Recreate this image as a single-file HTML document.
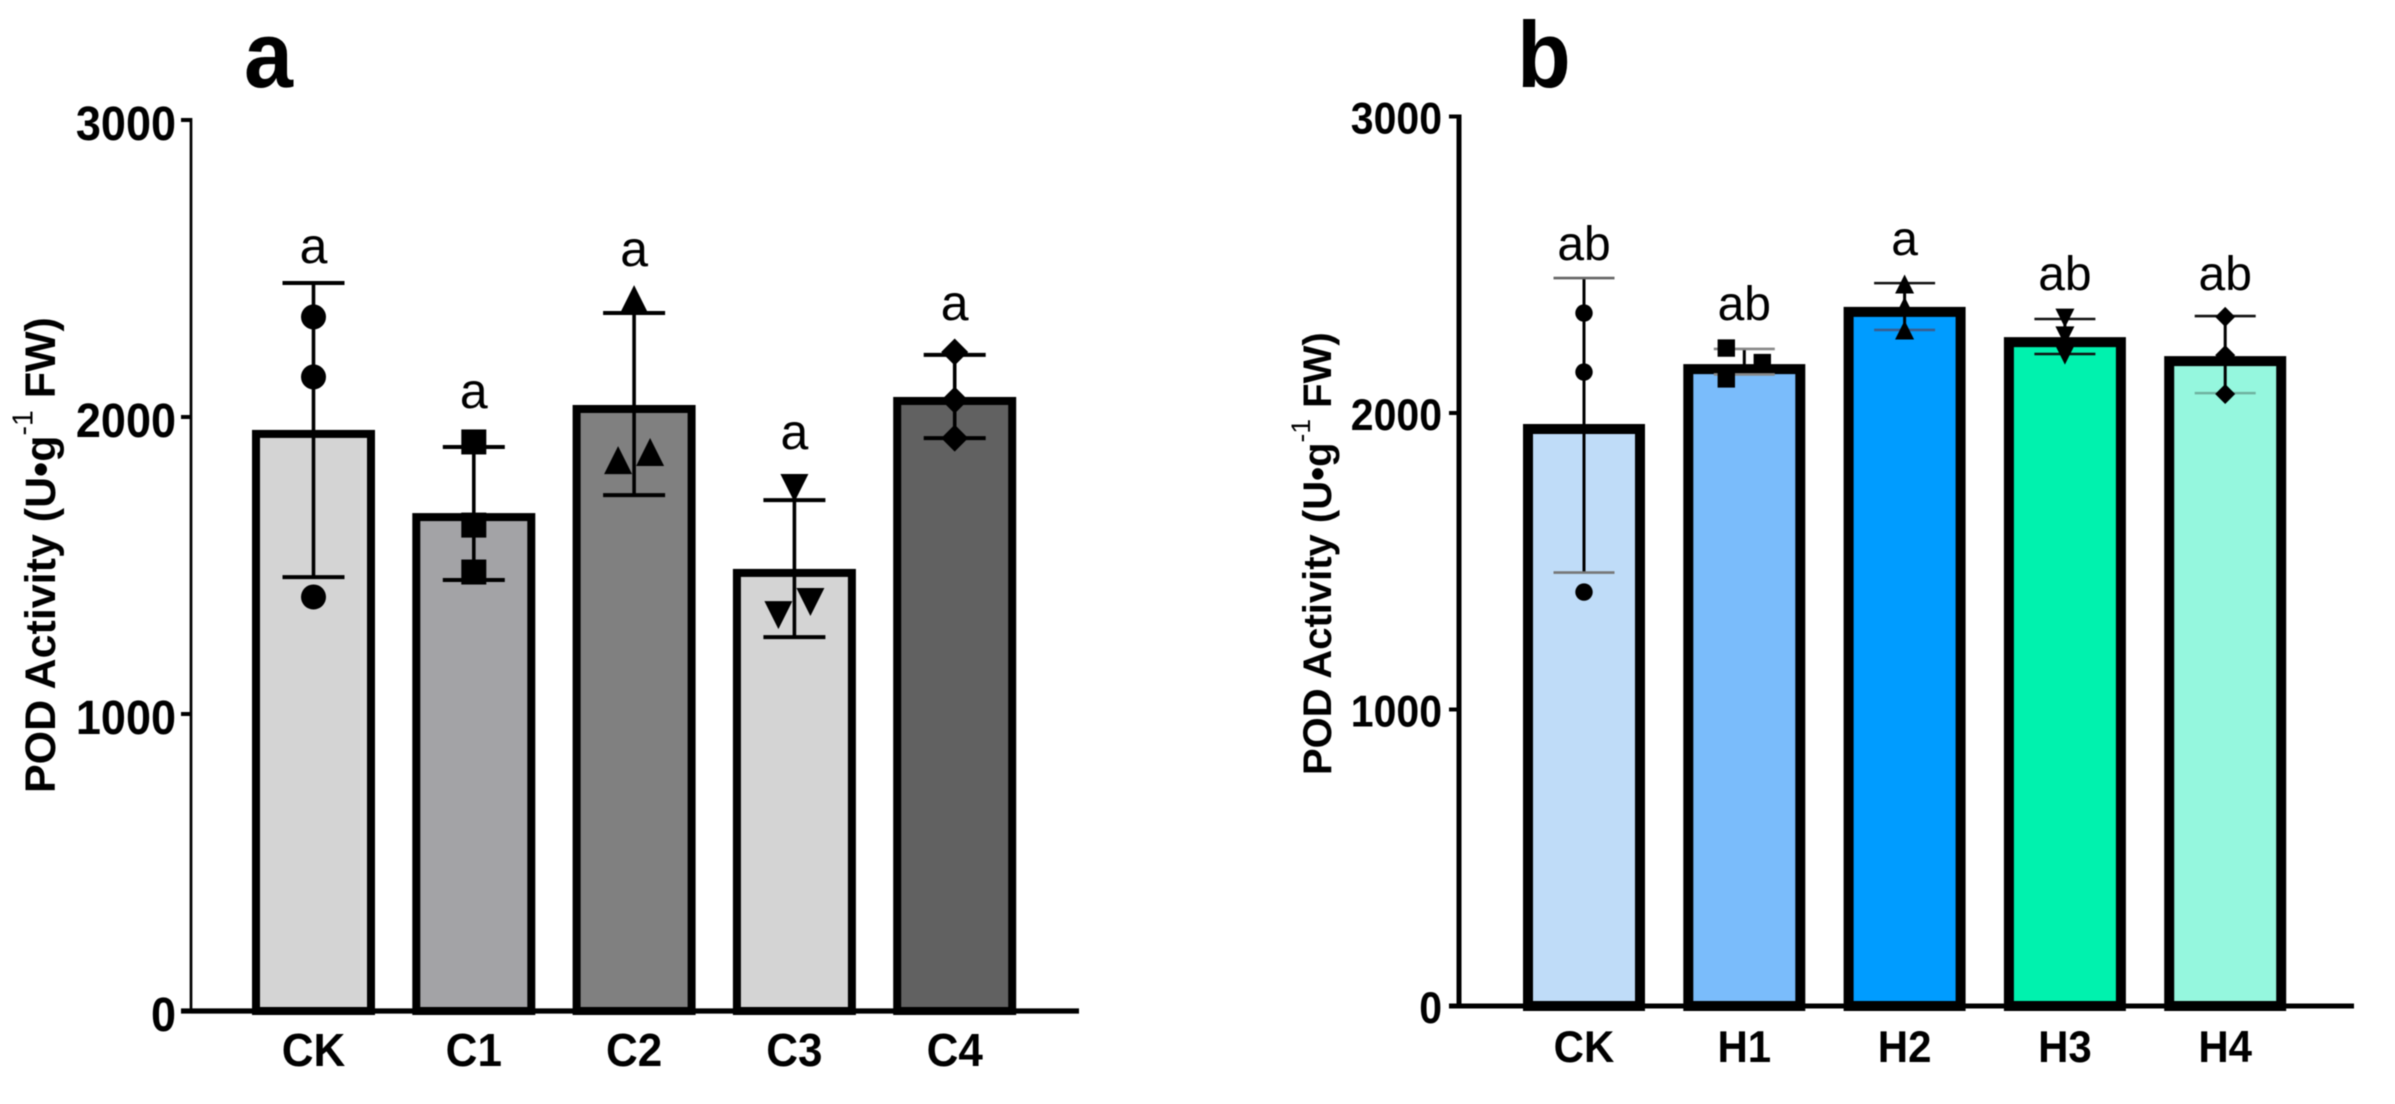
<!DOCTYPE html>
<html lang="en">
<head>
<meta charset="utf-8">
<title>POD Activity</title>
<style>
  html, body { margin: 0; padding: 0; background: #fff; }
  #figure { display: block; width: 2395px; height: 1104px; filter: blur(0.5px); font-family: "Liberation Sans", Arial, sans-serif; }
</style>
</head>
<body>
<svg id="figure" xmlns="http://www.w3.org/2000/svg" width="2395" height="1104" viewBox="0 0 2395 1104">
  <rect x="0" y="0" width="2395" height="1104" fill="#ffffff"/>
  <g id="panel-a"></g>
  <g id="panel-b"></g>
</svg>
<script>
// ---- Shared axis data ----
const tickLabels = [0, 1000, 2000, 3000];

// ---- Panel a data ----
const categoriesA = ['CK', 'C1', 'C2', 'C3', 'C4'];
const meansA = [1943, 1663, 2027, 1475, 2054];
const errorHighA = [2451, 1899, 2350, 1720, 2209];
const errorLowA = [1461, 1451, 1737, 1259, 1929];
const pointsCKa = [2337, 2135, 1394];
const pointsC1 = [1916, 1636, 1478];
const pointsC2 = [2397, 1855, 1882];
const pointsC3 = [1761, 1333, 1377];
const pointsC4 = [2219, 2057, 1929];
const sigLabelsA = ['a', 'a', 'a', 'a', 'a'];
const sigLevelsA = [2519, 2030, 2508, 1892, 2327];

// ---- Panel b data ----
const categoriesB = ['CK', 'H1', 'H2', 'H3', 'H4'];
const meansB = [1946, 2148, 2341, 2239, 2175];
const errorHighB = [2455, 2216, 2438, 2317, 2327];
const errorLowB = [1462, 2130, 2280, 2199, 2067];
const pointsCKb = [2337, 2138, 1396];
const pointsH1 = [2219, 2170, 2115];
const pointsH2 = [2435, 2360, 2280];
const pointsH3 = [2320, 2260, 2195];
const pointsH4 = [2324, 2195, 2064];
const sigLabelsB = ['ab', 'ab', 'a', 'ab', 'ab'];
const sigLevelsB = [2516, 2314, 2533, 2415, 2415];

// ---- Appearance (not data) ----
const fillsA = ['#d4d4d4', '#a3a3a6', '#808080', '#d4d4d4', '#616161'];
const fillsB = ['#bfdcf8', '#7abcfb', '#009cff', '#00f2ae', '#95f7de'];
const capTopColorsB = ['#666666', '#888888', '#111111', '#111111', '#111111'];
const capLowColorsB = ['#777777', '#888888', '#3a5f90', '#111111', '#6fb3a0'];
const capTopColorsA = ['#000000', '#000000', '#000000', '#000000', '#000000'];
const capLowColorsA = ['#000000', '#000000', '#000000', '#000000', '#000000'];
const markerKinds = ['circle', 'square', 'up', 'down', 'diamond'];

const SVG_NS = 'http://www.w3.org/2000/svg';

function make(tag, attrs, parent) {
  const node = document.createElementNS(SVG_NS, tag);
  for (const key in attrs) node.setAttribute(key, attrs[key]);
  parent.appendChild(node);
  return node;
}

function scaledText(parent, str, x, y, cfg) {
  const t = make('text', {
    transform: 'translate(' + x + ',' + y + ') scale(1,' + cfg.stretch + ')',
    'text-anchor': cfg.anchor,
    'font-size': cfg.size,
    'font-weight': cfg.weight,
    fill: '#000000'
  }, parent);
  t.textContent = str;
  return t;
}

function drawMarker(group, kind, cx, cy, m) {
  let node;
  if (kind === 'circle') {
    node = make('circle', { cx: cx, cy: cy, r: m.radius, fill: '#000' }, group);
  } else if (kind === 'square') {
    node = make('rect', { x: cx - m.radius, y: cy - m.radius, width: m.radius * 2, height: m.radius * 2, fill: '#000' }, group);
  } else if (kind === 'up') {
    node = make('polygon', { points: (cx) + ',' + (cy - m.tri) + ' ' + (cx - m.tri) + ',' + (cy + m.tri) + ' ' + (cx + m.tri) + ',' + (cy + m.tri), fill: '#000' }, group);
  } else if (kind === 'down') {
    node = make('polygon', { points: (cx) + ',' + (cy + m.tri) + ' ' + (cx - m.tri) + ',' + (cy - m.tri) + ' ' + (cx + m.tri) + ',' + (cy - m.tri), fill: '#000' }, group);
  } else {
    node = make('polygon', { points: cx + ',' + (cy - m.diamond) + ' ' + (cx + m.diamond) + ',' + cy + ' ' + cx + ',' + (cy + m.diamond) + ' ' + (cx - m.diamond) + ',' + cy, fill: '#000' }, group);
  }
  return node;
}

// Points that would overlap vertically are spread sideways, lowest first to the left.
function spreadOffsets(values, yScale, threshold, offset) {
  const order = values.map(function (v, i) { return i; }).sort(function (p, q) { return values[p] - values[q]; });
  const result = values.map(function () { return 0; });
  let side = -1;
  let inRun = false;
  for (let k = 0; k < order.length; k++) {
    const prevClose = k > 0 && Math.abs(yScale(values[order[k]]) - yScale(values[order[k - 1]])) < threshold;
    const nextClose = k < order.length - 1 && Math.abs(yScale(values[order[k]]) - yScale(values[order[k + 1]])) < threshold;
    if (prevClose || nextClose) {
      if (!inRun) { side = -1; inRun = true; }
      result[order[k]] = side * offset;
      side = -side;
    } else {
      inRun = false;
    }
  }
  return result;
}

function drawPanel(root, c) {
  const yScale = function (v) { return c.y0 - v * c.pxPerUnit; };
  const xScale = function (i) { return c.x0 + i * c.step; };

  // Bars
  c.categories.forEach(function (name, i) {
    const bar = make('rect', {
      x: xScale(i) - c.barHalf,
      y: yScale(c.means[i]),
      width: c.barHalf * 2,
      height: yScale(0) - yScale(c.means[i]),
      fill: c.fills[i],
      stroke: '#000',
      'stroke-width': c.barStroke
    }, root);
    
    
  });

  // Error bars
  c.categories.forEach(function (name, i) {
    const g = make('g', {}, root);
    
    
    const cx = xScale(i);
    make('line', { x1: cx, x2: cx, y1: yScale(c.errorHigh[i]), y2: yScale(c.errorLow[i]), stroke: '#000', 'stroke-width': c.whiskerWidth }, g);
    make('line', { x1: cx - c.capHalf, x2: cx + c.capHalf, y1: yScale(c.errorHigh[i]), y2: yScale(c.errorHigh[i]), stroke: c.capTopColors[i], 'stroke-width': c.capWidth }, g);
    make('line', { x1: cx - c.capHalf, x2: cx + c.capHalf, y1: yScale(c.errorLow[i]), y2: yScale(c.errorLow[i]), stroke: c.capLowColors[i], 'stroke-width': c.capWidth }, g);
  });

  // Replicate points
  c.categories.forEach(function (name, i) {
    const g = make('g', {}, root);
    
    
    const values = c.points[i];
    const offsets = spreadOffsets(values, yScale, c.spreadThreshold, c.spreadOffset);
    values.forEach(function (v, k) {
      const mark = drawMarker(g, markerKinds[i], xScale(i) + offsets[k], yScale(v), c.marker);
      
      
    });
  });

  // Y axis
  const yAxis = make('line', { x1: c.axisX, x2: c.axisX, y1: yScale(3000) - 2, y2: yScale(0), stroke: '#000', 'stroke-width': c.yAxisWidth }, root);
  
  

  tickLabels.forEach(function (t) {
    const tick = make('line', { x1: c.axisX - c.tickLen, x2: c.axisX, y1: yScale(t), y2: yScale(t), stroke: '#000', 'stroke-width': t === 0 ? c.baseWidth : 4 }, root);
    
    
    const label = scaledText(root, String(t), c.tickLabelX, yScale(t) + c.tickLabelDy, { anchor: 'end', size: c.tickFont, weight: 'bold', stretch: 1.08 });
    
    
  });

  // X axis
  const xAxis = make('line', { x1: c.axisX, x2: c.axisEnd, y1: yScale(0), y2: yScale(0), stroke: '#000', 'stroke-width': c.baseWidth }, root);
  
  

  c.categories.forEach(function (name, i) {
    const label = scaledText(root, name, xScale(i), c.xLabelY, { anchor: 'middle', size: c.xFont, weight: 'bold', stretch: 1.05 });
    
    
  });

  // Significance letters
  c.categories.forEach(function (name, i) {
    const label = scaledText(root, c.sigLabels[i], xScale(i), yScale(c.sigLevels[i]), { anchor: 'middle', size: c.sigFont, weight: 'normal', stretch: 1.0 });
    
    
  });

  // Y axis title
  const title = make('text', { transform: 'translate(' + c.titleX + ',' + c.titleY + ') rotate(-90)', 'font-size': c.titleFont, 'font-weight': 'bold', fill: '#000' }, root);
  
  
  const part1 = make('tspan', {}, title);
  part1.textContent = 'POD Activity (U\u2022g';
  const part2 = make('tspan', { dy: -c.titleFont * 0.52, 'font-size': c.titleFont * 0.66, 'font-weight': 'normal' }, title);
  part2.textContent = '-1';
  const part3 = make('tspan', { dy: c.titleFont * 0.52 }, title);
  part3.textContent = ' FW)';

  // Panel letter
  const letter = scaledText(root, c.id, c.letterX, 87, { anchor: 'start', size: 88, weight: 'bold', stretch: 1.07 });
  
  
}

drawPanel(document.getElementById('panel-a'), {
  id: 'a', categories: categoriesA, means: meansA, errorHigh: errorHighA, errorLow: errorLowA,
  points: [pointsCKa, pointsC1, pointsC2, pointsC3, pointsC4],
  sigLabels: sigLabelsA, sigLevels: sigLevelsA, fills: fillsA,
  capTopColors: capTopColorsA, capLowColors: capLowColorsA,
  y0: 1011, pxPerUnit: 0.297, x0: 313.5, step: 160.3, barHalf: 57.5, barStroke: 8,
  whiskerWidth: 3.6, capHalf: 31, capWidth: 4,
  marker: { radius: 12.5, tri: 14, diamond: 13.5 }, spreadThreshold: 20, spreadOffset: 16,
  axisX: 191, yAxisWidth: 2.7, baseWidth: 5.2, tickLen: 10, axisEnd: 1079,
  tickLabelX: 176, tickLabelDy: 20, tickFont: 45, xLabelY: 1066, xFont: 44, sigFont: 50,
  titleX: 55, titleY: 793, titleFont: 43, letterX: 244
});

drawPanel(document.getElementById('panel-b'), {
  id: 'b', categories: categoriesB, means: meansB, errorHigh: errorHighB, errorLow: errorLowB,
  points: [pointsCKb, pointsH1, pointsH2, pointsH3, pointsH4],
  sigLabels: sigLabelsB, sigLevels: sigLevelsB, fills: fillsB,
  capTopColors: capTopColorsB, capLowColors: capLowColorsB,
  y0: 1006, pxPerUnit: 0.2965, x0: 1584, step: 160.3, barHalf: 56, barStroke: 10,
  whiskerWidth: 3, capHalf: 30.5, capWidth: 2.6,
  marker: { radius: 8.7, tri: 9.5, diamond: 10 }, spreadThreshold: 17, spreadOffset: 18,
  axisX: 1459, yAxisWidth: 5, baseWidth: 5, tickLen: 10, axisEnd: 2354,
  tickLabelX: 1442, tickLabelDy: 17, tickFont: 41, xLabelY: 1062, xFont: 42, sigFont: 48,
  titleX: 1331, titleY: 775, titleFont: 40, letterX: 1517
});
</script>
</body>
</html>
